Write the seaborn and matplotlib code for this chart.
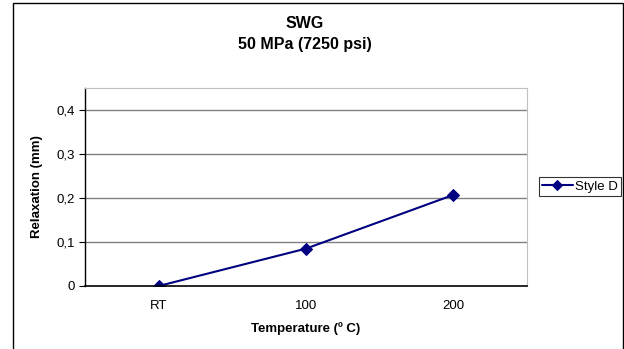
import pandas as pd
import matplotlib.pyplot as plt
import seaborn as sns
from matplotlib.patches import Rectangle

# dados
temperatures = ["RT", "100", "200"]
relaxation = [0.0, 0.085, 0.207]
series_name = "Style D"

df = pd.DataFrame({"temp": temperatures, "relax": relaxation})

sns.set_theme(style="white")
plt.rcParams["font.family"] = ["Liberation Sans", "DejaVu Sans"]
plt.rcParams["text.color"] = "black"
plt.rcParams["axes.labelcolor"] = "black"
plt.rcParams["xtick.color"] = "black"
plt.rcParams["ytick.color"] = "black"

fig = plt.figure(figsize=(6.24, 3.49), dpi=100)
W, H = 624, 349
ax = fig.add_axes([85 / W, 1 - 286 / H, (527 - 85) / W, (286 - 88) / H])

sns.lineplot(data=df, x="temp", y="relax", ax=ax, color="#000080",
             marker="D", markersize=6, markeredgecolor="#000080",
             linewidth=1.5, label=series_name, sort=False)

ax.set_xlim(-0.5, 2.5)
ax.set_ylim(0, 0.45)
ax.set_yticks([0, 0.1, 0.2, 0.3, 0.4])
ax.set_yticklabels(["0", "0,1", "0,2", "0,3", "0,4"], fontsize=9.5)
ax.set_xticks([0, 1, 2])
ax.set_xticklabels(temperatures, fontsize=9.5)
ax.set_xticks([-0.5, 0.5, 1.5, 2.5], minor=True)
ax.tick_params(axis="x", which="major", length=0, pad=10)
ax.tick_params(axis="x", which="minor", length=4, direction="out", color="black", width=0.8)
ax.tick_params(axis="y", length=4, direction="out", color="black", width=0.8, left=True, pad=3)

for yv in [0.1, 0.2, 0.3, 0.4]:
    ax.axhline(yv, color="#808080", linewidth=1.0, zorder=0)

ax.spines["left"].set_color("black")
ax.spines["bottom"].set_color("black")
ax.spines["left"].set_linewidth(1.0)
ax.spines["bottom"].set_linewidth(1.2)
for s in ["top", "right"]:
    ax.spines[s].set_visible(True)
    ax.spines[s].set_color("#c0c0c0")
    ax.spines[s].set_linewidth(0.8)

ax.set_xlabel("Temperature (º C)", fontsize=9.5, fontweight="bold", labelpad=7)
ax.set_ylabel("Relaxation (mm)", fontsize=9.5, fontweight="bold", labelpad=10)

fig.text(305 / W, 1 - 24 / H, "SWG", ha="center", va="center", fontsize=11.5, fontweight="bold")
fig.text(305 / W, 1 - 45 / H, "50 MPa (7250 psi)", ha="center", va="center", fontsize=11.5, fontweight="bold")

leg = ax.legend(loc="center left", bbox_to_anchor=(539 / W, 1 - 186.5 / H),
                bbox_transform=fig.transFigure, fontsize=9.5, frameon=True,
                fancybox=False, edgecolor="black", handlelength=2.3,
                handletextpad=0.2, borderpad=0.25, borderaxespad=0,
                markerscale=0.8)
leg.get_frame().set_linewidth(0.8)

# borda externa do grafico
fig.patches.append(Rectangle((13 / W, -0.05), (623 - 13) / W, 1 - 3 / H + 0.05,
                             transform=fig.transFigure, fill=False,
                             edgecolor="black", linewidth=1.0))

fig.savefig("out.png", dpi=100)
